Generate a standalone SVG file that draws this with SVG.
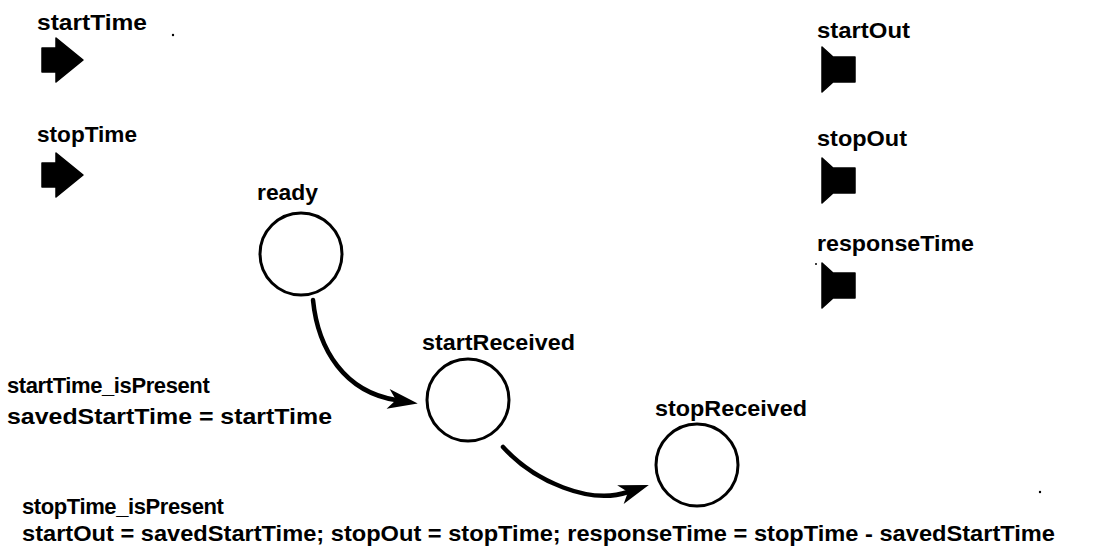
<svg xmlns="http://www.w3.org/2000/svg" width="1101" height="556" viewBox="0 0 1101 556">
<style>
text{font-family:"Liberation Sans",Arial,Helvetica,sans-serif;font-weight:bold;font-size:22px;fill:#000}
.tight{letter-spacing:-0.4px}
.state{fill:#fff;stroke:#000;stroke-width:3}
.port{fill:#000;stroke:#000;stroke-width:1.5;stroke-linejoin:round}
.edge{fill:none;stroke:#000;stroke-width:4.5;stroke-linecap:round}
</style>
<defs>
<marker id="ah" markerUnits="userSpaceOnUse" markerWidth="34" markerHeight="24" refX="8" refY="10" orient="auto" overflow="visible">
<path d="M0,0 L30,10 L0,20 L8,10 Z" fill="#000"/>
</marker>
</defs>
<rect width="1101" height="556" fill="#fff"/>
<g id="in-startTime">
<text x="37" y="30" textLength="110" lengthAdjust="spacingAndGlyphs">startTime</text>
<path class="port" d="M42,48 H56 V38 L83,60 L56,82 V72 H42 Z"/>
</g>
<g id="in-stopTime">
<text x="37" y="142" textLength="100" lengthAdjust="spacingAndGlyphs">stopTime</text>
<path class="port" d="M42,163 H56 V153 L83,175 L56,197 V187 H42 Z"/>
</g>
<g id="out-startOut">
<text x="817" y="38" textLength="93" lengthAdjust="spacingAndGlyphs">startOut</text>
<path class="port" d="M822,47 L833,57 H855 V82 H833 L822,92 Z"/>
</g>
<g id="out-stopOut">
<text x="817" y="146" textLength="90" lengthAdjust="spacingAndGlyphs">stopOut</text>
<path class="port" d="M822,158 L833,168 H855 V193 H833 L822,203 Z"/>
</g>
<g id="out-responseTime">
<text x="817" y="251" textLength="157" lengthAdjust="spacingAndGlyphs">responseTime</text>
<path class="port" d="M822,263 L833,273 H855 V298 H833 L822,308 Z"/>
</g>
<g id="ready">
<text x="257" y="200" textLength="61" lengthAdjust="spacingAndGlyphs">ready</text>
<circle class="state" cx="301" cy="254" r="41"/>
</g>
<g id="startReceived">
<text x="422" y="350" textLength="153" lengthAdjust="spacingAndGlyphs">startReceived</text>
<circle class="state" cx="468" cy="400" r="41"/>
</g>
<g id="stopReceived">
<text x="655" y="416" textLength="152" lengthAdjust="spacingAndGlyphs">stopReceived</text>
<circle class="state" cx="697" cy="465" r="41"/>
</g>
<g id="connectors">
<path class="edge" d="M313,300 C318,350 345,392 396,400" marker-end="url(#ah)"/>
<path class="edge" d="M503,447 C535,482 590,505 628,492" marker-end="url(#ah)"/>
</g>
<g id="labels">
<text class="tight" x="7" y="393">startTime_isPresent</text>
<text x="7" y="424" textLength="325" lengthAdjust="spacingAndGlyphs">savedStartTime = startTime</text>
<text class="tight" x="22" y="514">stopTime_isPresent</text>
<text x="22" y="541" textLength="1033" lengthAdjust="spacingAndGlyphs">startOut = savedStartTime; stopOut = stopTime; responseTime = stopTime - savedStartTime</text>
</g>
<g id="specks" fill="#000">
<circle cx="173" cy="35" r="1.2"/>
<circle cx="816" cy="264" r="1"/>
<circle cx="1040" cy="492" r="1.2"/>
</g>
</svg>
